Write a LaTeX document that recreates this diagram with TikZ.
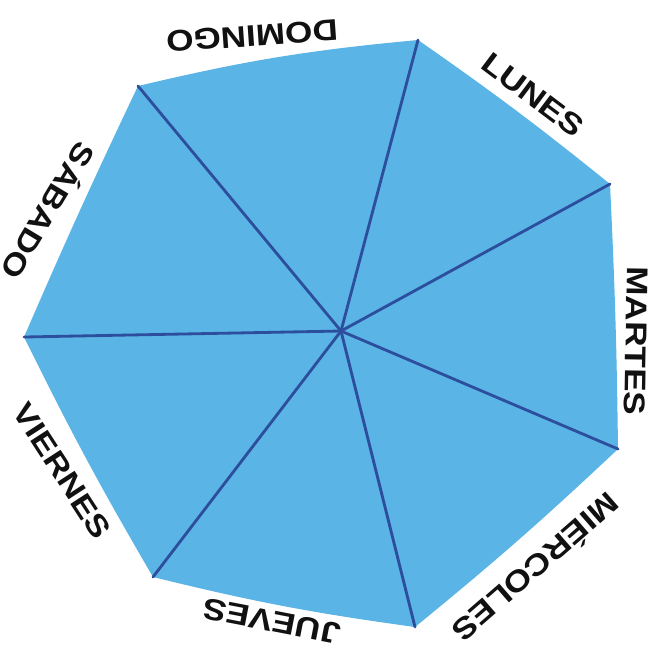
\documentclass[tikz,border=0pt]{standalone}
\usepackage{fontspec}
\setmainfont{Liberation Sans}
\usepackage{graphicx}
\usepackage{tikz}
\definecolor{sky}{HTML}{5AB4E5}
\definecolor{spokeblue}{HTML}{2C4E9C}
\definecolor{ink}{HTML}{111111}

\begin{document}
\begin{tikzpicture}[
  x=0.01cm,y=-0.01cm,
  spoke/.style={draw=spokeblue,line width=0.8pt,line cap=round},
  face/.style={fill=sky,draw=none},
  % day names sit just outside each rim edge, turned along it
  day/.style={font=\fontsize{10}{12}\selectfont\bfseries,text=ink,inner sep=0pt}
]
  \useasboundingbox (0,0) rectangle (661,657);

  % rim corners, clockwise from the top
  \coordinate (v1) at (418,40);
  \coordinate (v2) at (610,184);
  \coordinate (v3) at (618,449);
  \coordinate (v4) at (415,627);
  \coordinate (v5) at (153,577);
  \coordinate (v6) at (24,337);
  \coordinate (v7) at (138,86);
  \coordinate (hub) at (341,331);

  \path[face] (v1) to[bend left=2] (v2) to[bend left=1] (v3)
    to[bend left=2] (v4) to[bend left=3] (v5) to[bend left=2] (v6)
    to[bend left=1] (v7) to[bend left=4] (v1) -- cycle;

  \foreach \v in {v1,v2,v3,v4,v5,v6,v7}
    \draw[spoke] (hub) -- (\v);

  \node[day,rotate=184] (dom) at (252,36) {\scalebox{1}[0.85]{DOMINGO}};
  \node[day,rotate=-37] (lun) at (533,95) {\scalebox{1}[0.85]{LUNES}};
  \node[day,rotate=-91] (mar) at (636,341) {\scalebox{1}[0.85]{MARTES}};
  \node[day,rotate=-139] (mie) at (537,569) {\scalebox{1}[0.85]{MIÉRCOLES}};
  \node[day,rotate=169] (jue) at (272,621) {\scalebox{1}[0.85]{JUEVES}};
  \node[day,rotate=-57] (vie) at (62,471) {\scalebox{1}[0.85]{VIERNES}};
  \node[day,rotate=-121] (sab) at (50,212) {\scalebox{1}[0.85]{SÁBADO}};
\end{tikzpicture}
\end{document}
